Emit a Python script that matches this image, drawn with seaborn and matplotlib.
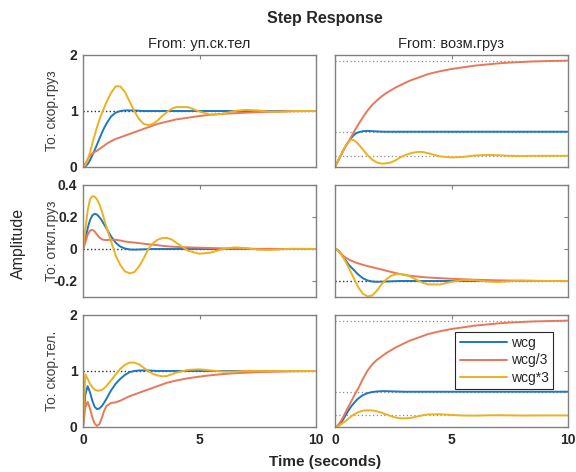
import pandas as pd
import seaborn as sns
import matplotlib.pyplot as plt

# time grid (seconds)
t = [0, 0.1, 0.2, 0.3, 0.4, 0.5, 0.6, 0.7, 0.8, 0.9, 1.0,
     1.2, 1.4, 1.6, 1.8, 2.0, 2.2, 2.4, 2.6, 2.8, 3.0, 3.2, 3.4, 3.6, 3.8, 4.0,
     4.5, 5.0, 5.5, 6.0, 6.5, 7.0, 7.5, 8.0, 8.5, 9.0, 10.0]

series = ["wcg", "wcg/3", "wcg*3"]
colors = ["#1f77c0", "#e8785a", "#edb120"]

inputs = ["From: уп.ск.тел", "From: возм.груз"]
outputs = ["To: скор.груз", "To: откл.груз", "To: скор.тел."]

# From: уп.ск.тел -> To: скор.груз
uv_wcg = [0, 0.01, 0.05, 0.12, 0.21, 0.30, 0.40, 0.50, 0.60, 0.69, 0.77,
          0.90, 0.97, 1.0, 1.01, 1.01, 1.01, 1.005, 1.0, 1.0, 1.0, 1.0, 1.0, 1.0, 1.0, 1.0,
          1.0, 1.0, 1.0, 1.0, 1.0, 1.0, 1.0, 1.0, 1.0, 1.0, 1.0]
uv_wcg3 = [0, 0.06, 0.14, 0.20, 0.24, 0.27, 0.29, 0.32, 0.35, 0.38, 0.41,
           0.46, 0.50, 0.53, 0.56, 0.59, 0.62, 0.65, 0.68, 0.71, 0.74, 0.77, 0.79, 0.81, 0.83, 0.85,
           0.88, 0.91, 0.935, 0.95, 0.96, 0.97, 0.98, 0.985, 0.99, 0.995, 1.0]
uv_wcgx3 = [0, 0.03, 0.12, 0.26, 0.42, 0.57, 0.71, 0.84, 0.95, 1.05, 1.15,
            1.32, 1.44, 1.44, 1.34, 1.17, 1.0, 0.86, 0.77, 0.75, 0.77, 0.83, 0.91, 0.98, 1.04, 1.07,
            1.07, 0.99, 0.93, 0.95, 1.0, 1.02, 1.01, 0.99, 0.99, 1.0, 1.0]

# From: уп.ск.тел -> To: откл.груз
ux_wcg = [0, 0.06, 0.13, 0.18, 0.21, 0.22, 0.215, 0.20, 0.18, 0.155, 0.13,
          0.08, 0.04, 0.015, 0.003, -0.003, -0.004, -0.003, -0.002, -0.001, 0, 0, 0, 0, 0, 0,
          0, 0, 0, 0, 0, 0, 0, 0, 0, 0, 0]
ux_wcg3 = [0, 0.04, 0.09, 0.115, 0.12, 0.11, 0.09, 0.072, 0.062, 0.057, 0.056,
           0.058, 0.058, 0.053, 0.047, 0.043, 0.040, 0.037, 0.033, 0.030, 0.027, 0.024, 0.020, 0.017, 0.015, 0.013,
           0.010, 0.008, 0.006, 0.004, 0.003, 0.002, 0.001, 0.001, 0, 0, 0]
ux_wcgx3 = [0, 0.12, 0.24, 0.31, 0.33, 0.328, 0.31, 0.28, 0.24, 0.19, 0.14,
            0.05, -0.04, -0.10, -0.14, -0.152, -0.145, -0.11, -0.06, 0.0, 0.035, 0.058, 0.068, 0.069, 0.06, 0.04,
            -0.01, -0.03, -0.022, 0.0, 0.01, 0.006, -0.004, -0.006, -0.002, 0.002, 0]

# From: уп.ск.тел -> To: скор.тел.
uw_wcg = [0, 0.58, 0.73, 0.62, 0.47, 0.36, 0.32, 0.33, 0.37, 0.43, 0.50,
          0.65, 0.77, 0.86, 0.93, 0.98, 1.0, 1.01, 1.01, 1.01, 1.005, 1.0, 1.0, 1.0, 1.0, 1.0,
          1.0, 1.0, 1.0, 1.0, 1.0, 1.0, 1.0, 1.0, 1.0, 1.0, 1.0]
uw_wcg3 = [0, 0.35, 0.45, 0.33, 0.17, 0.06, 0.02, 0.05, 0.15, 0.28, 0.37,
           0.43, 0.44, 0.47, 0.51, 0.55, 0.58, 0.61, 0.64, 0.67, 0.70, 0.73, 0.76, 0.79, 0.81, 0.83,
           0.87, 0.90, 0.925, 0.945, 0.96, 0.97, 0.98, 0.985, 0.99, 0.995, 1.0]
uw_wcgx3 = [0, 0.94, 0.86, 0.77, 0.71, 0.67, 0.65, 0.65, 0.66, 0.69, 0.73,
            0.83, 0.94, 1.04, 1.11, 1.15, 1.15, 1.12, 1.06, 1.0, 0.95, 0.92, 0.905, 0.91, 0.94, 0.97,
            1.02, 1.03, 1.01, 0.99, 0.99, 1.0, 1.0, 1.0, 1.0, 1.0, 1.0]

# From: возм.груз -> To: скор.груз
fv_wcg = [0, 0.085, 0.17, 0.25, 0.33, 0.40, 0.46, 0.52, 0.565, 0.60, 0.62,
          0.64, 0.645, 0.64, 0.635, 0.632, 0.63, 0.63, 0.63, 0.63, 0.63, 0.63, 0.63, 0.63, 0.63, 0.63,
          0.63, 0.63, 0.63, 0.63, 0.63, 0.63, 0.63, 0.63, 0.63, 0.63, 0.63]
fv_wcg3 = [0, 0.085, 0.17, 0.25, 0.33, 0.40, 0.47, 0.54, 0.62, 0.69, 0.76,
           0.89, 1.01, 1.11, 1.19, 1.26, 1.32, 1.37, 1.42, 1.46, 1.50, 1.54, 1.57, 1.60, 1.63, 1.66,
           1.71, 1.75, 1.78, 1.81, 1.83, 1.85, 1.865, 1.875, 1.885, 1.89, 1.9]
fv_wcgx3 = [0, 0.085, 0.17, 0.25, 0.33, 0.40, 0.46, 0.49, 0.48, 0.45, 0.41,
            0.31, 0.21, 0.13, 0.08, 0.06, 0.065, 0.08, 0.12, 0.17, 0.21, 0.24, 0.26, 0.27, 0.265, 0.245,
            0.19, 0.17, 0.18, 0.205, 0.215, 0.21, 0.20, 0.195, 0.20, 0.20, 0.20]

# From: возм.груз -> To: откл.груз
fx_wcg = [0, -0.005, -0.02, -0.04, -0.06, -0.08, -0.10, -0.115, -0.13, -0.145, -0.16,
          -0.183, -0.197, -0.203, -0.205, -0.204, -0.203, -0.202, -0.201, -0.2, -0.2, -0.2, -0.2, -0.2, -0.2, -0.2,
          -0.2, -0.2, -0.2, -0.2, -0.2, -0.2, -0.2, -0.2, -0.2, -0.2, -0.2]
fx_wcg3 = [0, -0.005, -0.018, -0.035, -0.048, -0.058, -0.066, -0.073, -0.079, -0.085, -0.09,
           -0.099, -0.107, -0.114, -0.121, -0.128, -0.136, -0.143, -0.15, -0.157, -0.163, -0.167, -0.17, -0.173, -0.176, -0.178,
           -0.182, -0.186, -0.189, -0.192, -0.194, -0.196, -0.197, -0.198, -0.199, -0.2, -0.2]
fx_wcgx3 = [0, -0.005, -0.02, -0.04, -0.065, -0.09, -0.12, -0.15, -0.18, -0.21, -0.24,
            -0.28, -0.296, -0.29, -0.26, -0.22, -0.19, -0.168, -0.158, -0.156, -0.16, -0.17, -0.185, -0.2, -0.213, -0.221,
            -0.222, -0.205, -0.194, -0.195, -0.203, -0.206, -0.202, -0.198, -0.199, -0.2, -0.2]

# From: возм.груз -> To: скор.тел.
fw_wcg = [0, 0.01, 0.05, 0.10, 0.17, 0.24, 0.31, 0.37, 0.42, 0.47, 0.51,
          0.57, 0.605, 0.625, 0.635, 0.64, 0.64, 0.637, 0.634, 0.632, 0.63, 0.63, 0.63, 0.63, 0.63, 0.63,
          0.63, 0.63, 0.63, 0.63, 0.63, 0.63, 0.63, 0.63, 0.63, 0.63, 0.63]
fw_wcg3 = [0, 0.02, 0.07, 0.14, 0.22, 0.30, 0.38, 0.46, 0.54, 0.62, 0.69,
           0.86, 1.01, 1.12, 1.20, 1.26, 1.32, 1.37, 1.42, 1.46, 1.50, 1.54, 1.57, 1.60, 1.63, 1.66,
           1.71, 1.75, 1.78, 1.81, 1.83, 1.85, 1.865, 1.875, 1.885, 1.89, 1.9]
fw_wcgx3 = [0, 0.01, 0.03, 0.06, 0.09, 0.12, 0.16, 0.19, 0.22, 0.245, 0.265,
            0.29, 0.30, 0.295, 0.28, 0.255, 0.225, 0.195, 0.17, 0.157, 0.155, 0.16, 0.175, 0.195, 0.212, 0.224,
            0.228, 0.215, 0.205, 0.203, 0.208, 0.21, 0.208, 0.205, 0.206, 0.207, 0.207]

# steady-state values (wcg, wcg/3, wcg*3)
uv_final = [1.0, 1.0, 1.0]
ux_final = [0.0, 0.0, 0.0]
uw_final = [1.0, 1.0, 1.0]
fv_final = [0.63, 1.9, 0.2]
fx_final = [-0.2, -0.2, -0.2]
fw_final = [0.63, 1.9, 0.21]

ylims = [(0, 2), (-0.3, 0.4), (0, 2)]
yticks = [[0, 1, 2], [-0.2, 0, 0.2, 0.4], [0, 1, 2]]

panels = {
    (0, 0): ([uv_wcg, uv_wcg3, uv_wcgx3], uv_final),
    (1, 0): ([ux_wcg, ux_wcg3, ux_wcgx3], ux_final),
    (2, 0): ([uw_wcg, uw_wcg3, uw_wcgx3], uw_final),
    (0, 1): ([fv_wcg, fv_wcg3, fv_wcgx3], fv_final),
    (1, 1): ([fx_wcg, fx_wcg3, fx_wcgx3], fx_final),
    (2, 1): ([fw_wcg, fw_wcg3, fw_wcgx3], fw_final),
}

sns.set_theme(style="white")
plt.rcParams["font.family"] = ["Liberation Sans", "DejaVu Sans"]

fig = plt.figure(figsize=(5.76, 4.72), dpi=100)
lefts = [83 / 576, 335 / 576]
bottoms = [1 - 167 / 472, 1 - 297 / 472, 1 - 427 / 472]
w, h = 233 / 576, 112 / 472

for (r, c), (curves, finals) in panels.items():
    ax = fig.add_axes([lefts[c], bottoms[r], w, h])
    df = pd.DataFrame({
        "t": t * 3,
        "y": [v for cur in curves for v in cur],
        "series": [s for s in series for _ in t],
    })
    show_legend = (r, c) == (2, 1)
    sns.lineplot(data=df, x="t", y="y", hue="series", hue_order=series,
                 palette=colors, linewidth=1.4, ax=ax, legend=show_legend,
                 estimator=None, sort=False)
    for y in finals:
        ax.axhline(y, color="k", ls=(0, (1, 2)), lw=0.9, alpha=0.5, zorder=1)

    ax.set_xlim(0, 10)
    ax.set_ylim(*ylims[r])
    ax.set_xticks([0, 5, 10])
    ax.set_yticks(yticks[r])
    ax.set_yticklabels(["0" if v == 0 else f"{v:g}" for v in yticks[r]])
    ax.set_xlabel("")
    ax.set_ylabel("")
    ax.tick_params(direction="in", length=3, width=0.8, color="#808080",
                   top=True, right=True, labelsize=10, labelcolor="#262626", pad=4)
    for sp in ax.spines.values():
        sp.set_color("#808080")
        sp.set_linewidth(1.0)
    if c == 1:
        ax.tick_params(labelleft=False)
    if r < 2:
        ax.tick_params(labelbottom=False)
    for lab in ax.get_xticklabels() + ax.get_yticklabels():
        lab.set_fontweight("bold")
    if r == 0:
        ax.set_title(inputs[c], fontsize=10.5, color="#262626", pad=5)
    if c == 0:
        fig.text(52 / 576, bottoms[r] + h / 2, outputs[r], rotation=90,
                 ha="center", va="center", fontsize=10, color="#404040")
    if show_legend:
        ax.legend(loc="upper right", bbox_to_anchor=(0.936, 0.85), fontsize=10,
                  frameon=True, fancybox=False, edgecolor="#262626", framealpha=1,
                  handlelength=3.4, handletextpad=0.3, borderpad=0.3,
                  labelspacing=0.25, borderaxespad=0)
        ax.get_legend().get_frame().set_linewidth(0.8)

fig.suptitle("Step Response", x=325 / 576, y=1 - 18 / 472, va="center",
             fontsize=11.5, fontweight="bold")
fig.text(18 / 576, 1 - 243 / 472, "Amplitude", rotation=90, ha="center",
         va="center", fontsize=11.5)
fig.text(325 / 576, 1 - 462 / 472, "Time (seconds)", ha="center", va="center",
         fontsize=11, fontweight="bold")

fig.savefig("out.png", dpi=100)
